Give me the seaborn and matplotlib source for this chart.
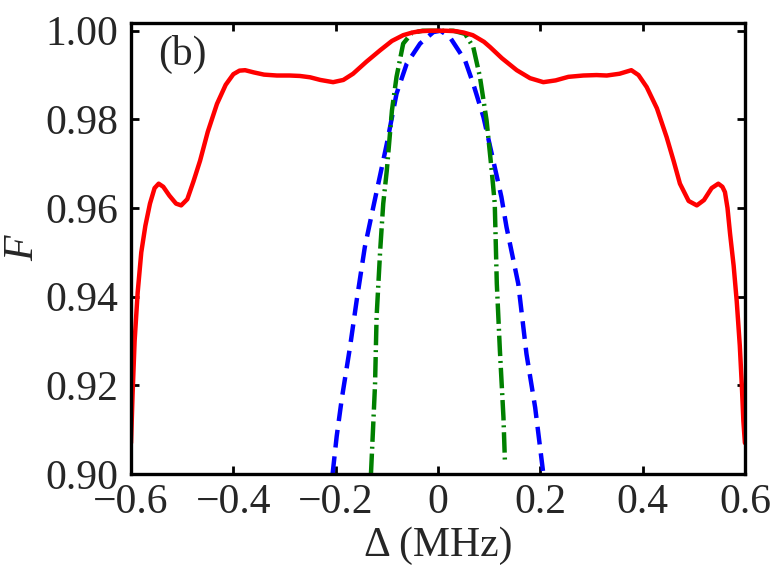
import matplotlib
matplotlib.use("Agg")
import matplotlib.pyplot as plt
import seaborn as sns
import numpy as np

# ---- data ----
red_x = [-0.600, -0.597, -0.593, -0.587, -0.580, -0.572, -0.563, -0.554, -0.546, -0.537,
         -0.525, -0.512, -0.502, -0.490, -0.478, -0.465, -0.450, -0.432, -0.415, -0.400,
         -0.388, -0.377, -0.360, -0.340, -0.315, -0.290, -0.270, -0.250, -0.230, -0.205,
         -0.185, -0.166, -0.140, -0.113, -0.090, -0.068, -0.050, -0.035, -0.015, 0.000,
         0.015, 0.035, 0.050, 0.068, 0.090, 0.102, 0.125, 0.154, 0.180, 0.206,
         0.230, 0.255, 0.284, 0.310, 0.330, 0.355, 0.378, 0.392, 0.408, 0.428,
         0.447, 0.461, 0.473, 0.490, 0.506, 0.520, 0.535, 0.548, 0.556, 0.561,
         0.566, 0.571, 0.578, 0.584, 0.590, 0.594, 0.597, 0.600]
red_y = [0.9070, 0.9180, 0.9300, 0.9410, 0.9500, 0.9560, 0.9610, 0.9645, 0.9655, 0.9648,
         0.9628, 0.9610, 0.9606, 0.9620, 0.9660, 0.9707, 0.9772, 0.9835, 0.9878, 0.9902,
         0.9910, 0.9911, 0.9906, 0.9901, 0.9899, 0.9899, 0.9898, 0.9895, 0.9889, 0.9884,
         0.9889, 0.9903, 0.9930, 0.9956, 0.9977, 0.9990, 0.9996, 0.9999, 1.0000, 1.0000,
         1.0000, 0.9999, 0.9996, 0.9990, 0.9975, 0.9963, 0.9938, 0.9911, 0.9893, 0.9884,
         0.9888, 0.9896, 0.9899, 0.9900, 0.9899, 0.9903, 0.9911, 0.9900, 0.9873, 0.9825,
         0.9760, 0.9705, 0.9655, 0.9616, 0.9606, 0.9618, 0.9645, 0.9655, 0.9648, 0.9636,
         0.9600, 0.9542, 0.9470, 0.9390, 0.9290, 0.9200, 0.9120, 0.9070]

blue_x = [-0.206, -0.198, -0.188, -0.172, -0.159, -0.143, -0.125, -0.112, -0.100, -0.081,
          -0.061, -0.035, -0.009, 0.005, 0.023, 0.053, 0.069, 0.089, 0.105, 0.124,
          0.134, 0.157, 0.173, 0.190, 0.206]
blue_y = [0.9000, 0.9085, 0.9170, 0.9286, 0.9391, 0.9512, 0.9610, 0.9680, 0.9745, 0.9858,
          0.9926, 0.9971, 0.9997, 1.0000, 0.9986, 0.9933, 0.9880, 0.9805, 0.9723, 0.9625,
          0.9557, 0.9429, 0.9271, 0.9150, 0.9000]

green_x = [-0.131, -0.127, -0.123, -0.120, -0.113, -0.107, -0.100, -0.090, -0.081, -0.068,
           -0.051, -0.030, 0.000, 0.030, 0.053, 0.069, 0.082, 0.095, 0.105, 0.111,
           0.115, 0.121, 0.128, 0.131]
green_y = [0.9000, 0.9100, 0.9203, 0.9354, 0.9504, 0.9610, 0.9685, 0.9820, 0.9896, 0.9971,
           0.9995, 1.0000, 1.0000, 1.0000, 0.9993, 0.9963, 0.9896, 0.9798, 0.9685, 0.9610,
           0.9430, 0.9280, 0.9128, 0.9024]

x_ticks = [-0.6, -0.4, -0.2, 0.0, 0.2, 0.4, 0.6]
x_tick_labels = ["\u22120.6", "\u22120.4", "\u22120.2", "0", "0.2", "0.4", "0.6"]
y_ticks = [0.90, 0.92, 0.94, 0.96, 0.98, 1.00]
y_tick_labels = ["0.90", "0.92", "0.94", "0.96", "0.98", "1.00"]

sns.set_style("ticks")
plt.rcParams['font.family'] = ['Liberation Serif', 'DejaVu Serif']
plt.rcParams['xtick.direction'] = 'in'
plt.rcParams['ytick.direction'] = 'in'

fig = plt.figure(figsize=(7.8, 5.66), dpi=100)
ax = fig.add_axes([0.168, 0.1625, 0.787, 0.7965])

sns.lineplot(x=blue_x, y=blue_y, ax=ax, color='#0000ff', linewidth=3.2,
             linestyle=(0, (4.0, 2.0)), estimator=None)
sns.lineplot(x=green_x, y=green_y, ax=ax, color='#008000', linewidth=3.2,
             linestyle=(0, (4.6, 1.1, 0.45, 1.1)), estimator=None)
sns.lineplot(x=red_x, y=red_y, ax=ax, color='#ff0000', linewidth=3.2,
             linestyle='-', estimator=None)

ax.set_xlim(-0.6, 0.6)
ax.set_ylim(0.9, 1.0017)
ax.set_xticks(x_ticks)
ax.set_xticklabels(x_tick_labels)
ax.set_yticks(y_ticks)
ax.set_yticklabels(y_tick_labels)
ax.tick_params(axis='both', which='both', direction='in', length=6, width=2,
               top=True, right=True, labelsize=30, color='black')
ax.tick_params(axis='y', pad=9)
ax.tick_params(axis='x', pad=7)
for s in ax.spines.values():
    s.set_linewidth(2.4)
    s.set_color('black')

ax.set_xlabel("\u0394 (MHz)", fontsize=30, labelpad=3)
ax.set_ylabel("")
fig.text(0.029, 0.562, "F", fontsize=30, fontstyle='italic', rotation=90,
         ha='center', va='center')
ax.text(0.044, 0.975, "(b)", transform=ax.transAxes, fontsize=30, va='top', ha='left')

fig.savefig("out.png", dpi=100)
